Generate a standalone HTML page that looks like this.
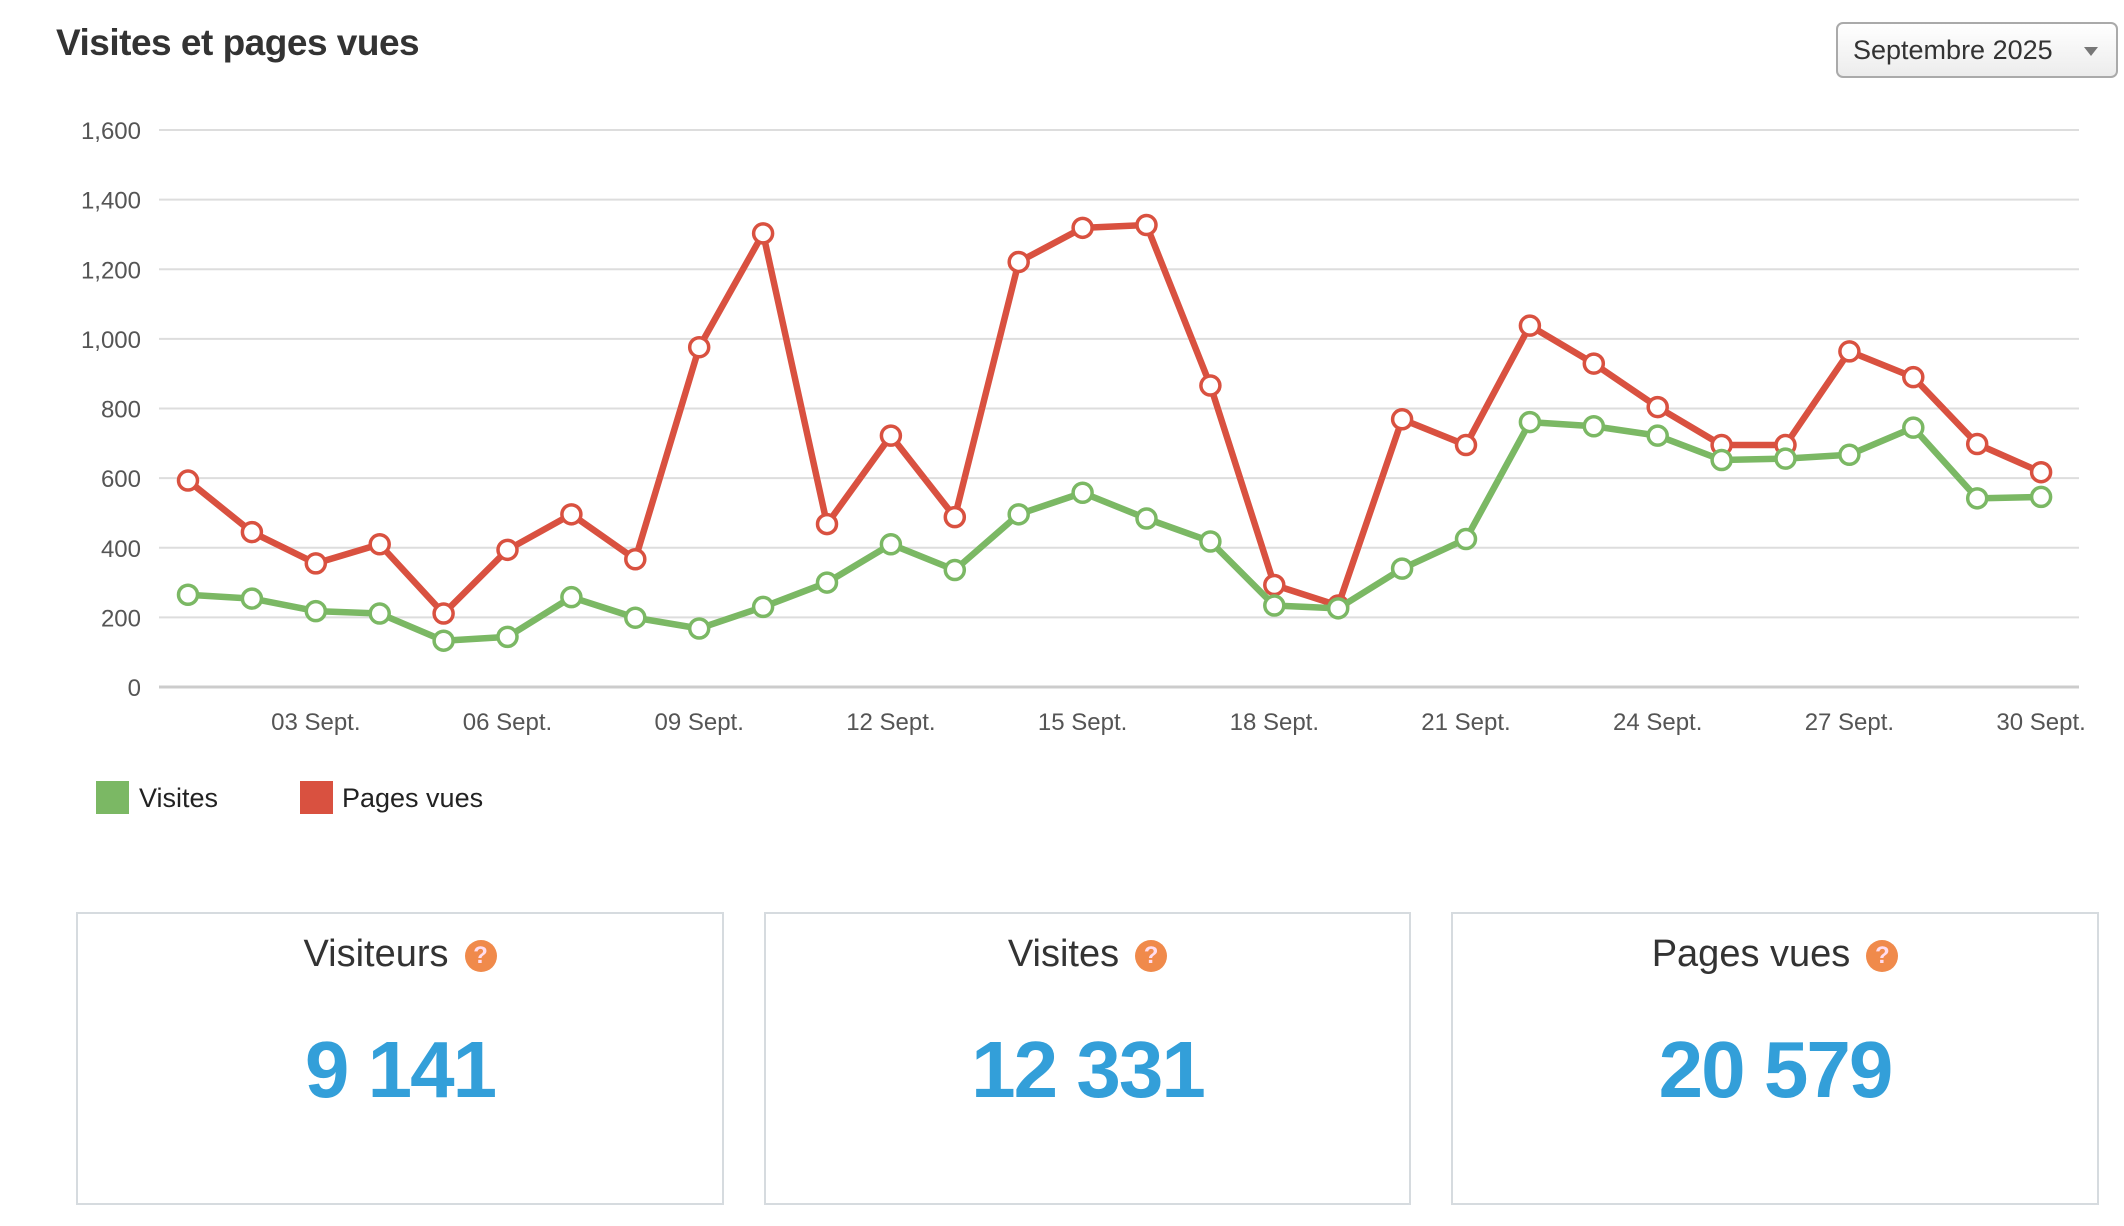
<!DOCTYPE html>
<html><head><meta charset="utf-8"><style>
body{margin:0;width:2124px;height:1226px;background:#fff;font-family:"Liberation Sans","DejaVu Sans",sans-serif;overflow:hidden;position:relative}
.title{position:absolute;left:56px;top:22px;font-size:37px;font-weight:bold;color:#333;letter-spacing:-0.5px}
.dd{position:absolute;left:1836px;top:22px;width:282px;height:56px;border:2px solid #aaa;border-radius:7px;box-sizing:border-box;background:linear-gradient(#fff,#ececec);font-size:27px;color:#333;line-height:52px;padding-left:15px}
.dd:after{content:"";position:absolute;right:18px;top:23px;border-left:7px solid transparent;border-right:7px solid transparent;border-top:9px solid #777}
.card{position:absolute;top:912px;height:293px;border:2px solid #d6dbdf;box-sizing:border-box;text-align:center}
.card .h{margin-top:19px;font-size:38px;color:#333}
.q{display:inline-block;width:32px;height:32px;border-radius:50%;background:#f08a4b;color:#fde;font-size:24px;font-weight:bold;line-height:32px;vertical-align:3px;margin-left:16px}
.card .n{margin-top:48px;font-size:80px;font-weight:bold;color:#339fd9;letter-spacing:-2px}
</style></head><body>
<div class="title">Visites et pages vues</div>
<div class="dd">Septembre 2025</div>
<svg id="c" width="2124" height="900" style="position:absolute;left:0;top:0"></svg>
<div class="card" style="left:76px;width:648px"><div class="h">Visiteurs<span class="q">?</span></div><div class="n">9 141</div></div>
<div class="card" style="left:764px;width:647px"><div class="h">Visites<span class="q">?</span></div><div class="n">12 331</div></div>
<div class="card" style="left:1451px;width:648px"><div class="h">Pages vues<span class="q">?</span></div><div class="n">20 579</div></div>
<script>
var g=[265,254,218,211,133,144,258,199,168,230,300,410,336,496,558,484,418,234,226,340,425,761,749,722,652,656,667,745,542,546];
var r=[593,445,355,410,211,394,496,367,976,1303,468,722,488,1221,1319,1327,866,293,234,769,695,1038,929,804,695,695,964,890,698,617];
var s='';
function Y(v){return 687-v/1600*557;}
function X(i){return 188+i*63.9;}
for(var k=0;k<=8;k++){var y=Y(k*200);s+='<line x1="159" x2="2079" y1="'+y+'" y2="'+y+'" stroke="'+(k==0?'#ccc':'#ddd')+'" stroke-width="'+(k==0?3:2)+'"/>';
s+='<text x="141" y="'+(y+9)+'" text-anchor="end" font-size="24" fill="#555" font-family="Liberation Sans,sans-serif">'+(k==0?'0':(k*200).toLocaleString('en-US'))+'</text>';}
for(var d=3;d<=30;d+=3){s+='<text x="'+X(d-1)+'" y="730" text-anchor="middle" font-size="24" fill="#555" font-family="Liberation Sans,sans-serif">'+(d<10?'0'+d:d)+' Sept.</text>';}
function ser(a,c){var p=a.map(function(v,i){return X(i)+','+Y(v)}).join(' ');
var o='<polyline points="'+p+'" fill="none" stroke="'+c+'" stroke-width="6.5" stroke-linejoin="round"/>';
a.forEach(function(v,i){o+='<circle cx="'+X(i)+'" cy="'+Y(v)+'" r="9.5" fill="#fff" stroke="'+c+'" stroke-width="3.5"/>'});return o;}
s+=ser(r,'#d95140')+ser(g,'#7bb864');
s+='<rect x="96" y="781" width="33" height="33" fill="#7bb864"/><text x="139" y="807" font-size="27" fill="#222" font-family="Liberation Sans,sans-serif">Visites</text>';
s+='<rect x="300" y="781" width="33" height="33" fill="#d95140"/><text x="342" y="807" font-size="27" fill="#222" font-family="Liberation Sans,sans-serif">Pages vues</text>';
document.getElementById('c').innerHTML=s;
</script>
</body></html>
